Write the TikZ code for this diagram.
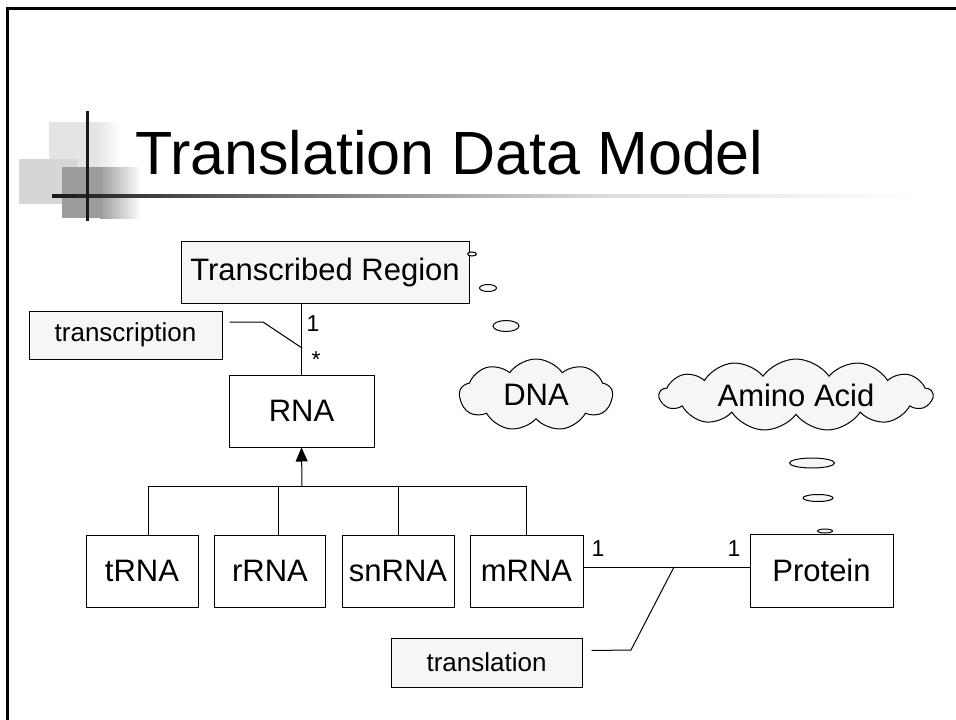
\documentclass[tikz,border=0pt]{standalone}
\usepackage{fontspec}
\setmainfont{Liberation Sans}
\usetikzlibrary{shapes.symbols,arrows.meta}
\definecolor{notefill}{HTML}{F6F6F6}
\definecolor{sqlight}{HTML}{E4E4E4}
\definecolor{sqmid}{HTML}{D6D6D6}
\definecolor{sqdark}{HTML}{9C9C9C}
\begin{document}
\begin{tikzpicture}[x=1pt,y=-1pt,
  umlbox/.style={draw, line width=1pt, inner sep=0pt, fill=white, font=\fontsize{31}{37}\selectfont},
  notebox/.style={draw, line width=1pt, inner sep=0pt, fill=notefill, font=\fontsize{26}{31}\selectfont},
  mult/.style={inner sep=0pt, font=\fontsize{23}{27}\selectfont},
  conn/.style={line width=1pt},
  thought/.style={draw, line width=1pt, fill=notefill, shape=cloud, cloud ignores aspect, inner sep=0pt, font=\fontsize{31}{37}\selectfont},
  bubble/.style={draw, line width=1pt, fill=notefill}]
\useasboundingbox (0,0) rectangle (956,720);
% slide frame
\draw[line width=3pt] (7,720) -- (7,8) -- (956,8);
% title decoration
\fill[sqlight] (49,122) rectangle (95,172);
\shade[left color=sqlight, right color=white] (95,122) rectangle (121,172);
\fill[sqmid] (19,159) rectangle (78,204);
\fill[sqdark] (62,167) rectangle (100,218);
\shade[left color=sqdark, right color=white] (100,167) rectangle (141,218);
\shade[left color=black!90, right color=black!60] (52,194.5) rectangle (250,197.5);
\shade[left color=black!60, right color=black!14] (250,194.5) rectangle (600,197.5);
\shade[left color=black!14, right color=white] (600,194.5) rectangle (920,197.5);
\draw[line width=3pt, black!90] (87,111) -- (87,221);
\node[anchor=base west, inner sep=0pt, font=\fontsize{61}{70}\selectfont] (title) at (135,174) {Translation Data Model};
% classes
\node[umlbox, fill=notefill, minimum width=288pt, minimum height=62pt] (tr) at (325,272) {Transcribed Region};
\node[notebox, minimum width=193pt, minimum height=48pt] (tscr) at (125.5,335) {transcription};
\node[umlbox, minimum width=145pt, minimum height=72pt] (rna) at (301.5,411) {RNA};
\node[umlbox, minimum width=112pt, minimum height=72pt] (trna) at (142,571) {tRNA};
\node[umlbox, minimum width=111pt, minimum height=72pt] (rrna) at (270,571) {rRNA};
\node[umlbox, minimum width=112pt, minimum height=72pt] (snrna) at (398,571) {snRNA};
\node[umlbox, minimum width=113pt, minimum height=72pt] (mrna) at (526.5,571) {mRNA};
\node[umlbox, minimum width=143pt, minimum height=73pt] (prot) at (821.5,570.5) {Protein};
\node[notebox, minimum width=191pt, minimum height=49pt] (tlat) at (486.5,662.5) {translation};
% thought clouds
\node[thought, cloud puffs=9, cloud puff arc=110, minimum width=153pt, minimum height=72pt] (dna) at (536,395) {DNA};
\node[thought, cloud puffs=13, cloud puff arc=110, minimum width=273pt, minimum height=72pt] (aa) at (796,395) {Amino Acid};
\filldraw[bubble] (472,254) ellipse [x radius=4.5pt, y radius=2pt];
\filldraw[bubble] (488,288) ellipse [x radius=8.5pt, y radius=3.5pt];
\filldraw[bubble] (506,326) ellipse [x radius=13pt, y radius=5.5pt];
\filldraw[bubble] (812,463) ellipse [x radius=22.5pt, y radius=5pt];
\filldraw[bubble] (818,498) ellipse [x radius=15pt, y radius=3.5pt];
\filldraw[bubble] (825,531) ellipse [x radius=7.5pt, y radius=2pt];
% transcription association
\draw[conn] (tr.south -| rna.north) -- (rna.north);
\coordinate (tsj) at (302,348);
\draw[conn] ([xshift=7pt,yshift=13pt]tscr.east) -- (263,322) -- (tsj);
\node[mult] (m1) at (313,324) {1};
\node[mult] (m2) at (316,360) {*};
% generalization
\coordinate (bus) at (302,486);
\draw[conn, -{Triangle[length=14pt,width=12pt]}] (bus) -- (rna.south);
\draw[conn] ([xshift=6pt]trna.north) -- ([xshift=6pt]trna.north |- bus) -- (mrna.north |- bus) -- (mrna.north);
\draw[conn] ([xshift=8pt]rrna.north) -- ([xshift=8pt]rrna.north |- bus);
\draw[conn] (snrna.north) -- (snrna.north |- bus);
% translation association
\draw[conn] ([yshift=4pt]mrna.east) -- ([yshift=4pt]mrna.east -| prot.west);
\coordinate (tlj) at (674,567);
\draw[conn] ([xshift=9pt,yshift=12pt]tlat.east) -- (631,650) -- (tlj);
\node[mult] (m3) at (598,549) {1};
\node[mult] (m4) at (734,549) {1};
\end{tikzpicture}
\end{document}
